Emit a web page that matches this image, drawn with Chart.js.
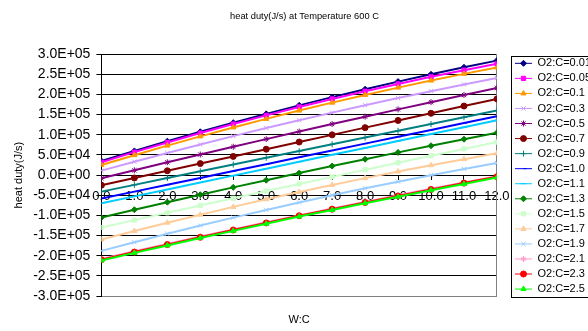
<!DOCTYPE html>
<html>
<head>
<meta charset="utf-8">
<script src="https://cdn.jsdelivr.net/npm/chart.js@4.4.1/dist/chart.umd.min.js"></script>
<style>
  html, body { margin: 0; padding: 0; background: #fff; }
  #wrap { width: 588px; height: 331px; overflow: hidden; position: relative; }
  canvas { display: block; }
</style>
</head>
<body>
<div id="wrap"><canvas id="chart" width="610" height="331"></canvas></div>
<script>
// W:C ratio on the x axis
const wc = [0, 1, 2, 3, 4, 5, 6, 7, 8, 9, 10, 11, 12];

// O2:C ratio of each series
const ratios = ['0.01', '0.05', '0.1', '0.3', '0.5', '0.7', '0.9', '1.0', '1.1', '1.3', '1.5', '1.7', '1.9', '2.1', '2.3', '2.5'];

// heat duty (J/s)
const duty001 = [35000, 59900, 84000, 107400, 130000, 151900, 173000, 193400, 213000, 231900, 250000, 267400, 284000];
const duty005 = [32000, 56900, 81000, 104200, 126700, 148200, 169000, 188900, 208000, 226200, 243700, 260200, 276000];
const duty01 = [25000, 49400, 73100, 96000, 118100, 139400, 160000, 179700, 198800, 217000, 234400, 251100, 267000];
const duty03 = [11000, 33200, 54900, 76000, 96600, 116600, 136000, 154900, 173200, 191000, 208200, 224900, 241000];
const duty05 = [-8000, 11900, 31600, 51000, 70200, 89200, 108000, 126600, 144900, 163000, 180900, 198600, 216000];
const duty07 = [-25000, -7200, 10700, 28500, 46300, 64200, 82000, 99800, 117700, 135500, 153300, 171200, 189000];
const duty09 = [-41000, -24300, -7500, 9300, 26000, 42800, 59500, 76300, 93000, 109800, 126500, 143300, 160000];
const duty10 = [-58000, -41000, -24000, -7000, 10000, 27000, 44000, 61000, 78000, 95000, 112000, 129000, 146000];
const duty11 = [-70000, -52800, -35700, -18500, -1300, 15800, 33000, 50200, 67300, 84500, 101700, 118800, 136000];
const duty13 = [-105000, -86000, -67200, -48800, -30500, -12700, 5000, 22400, 39400, 56300, 72800, 89000, 105000];
const duty15 = [-130000, -111700, -93600, -75500, -57600, -39700, -22000, -4400, 13100, 30500, 47800, 64900, 82000];
const duty17 = [-160000, -138800, -118200, -98300, -78900, -60100, -42000, -24500, -7600, 8700, 24400, 39500, 54000];
const duty19 = [-188000, -166500, -145600, -125300, -105600, -86400, -68000, -50200, -32900, -16300, -300, 15200, 30000];
const duty21 = [-208000, -189200, -170800, -152600, -134800, -117200, -100000, -83100, -66500, -50200, -34100, -18400, -3000];
const duty23 = [-210000, -191000, -172500, -154300, -136400, -118800, -101000, -84600, -68000, -51800, -35800, -19900, -4000];
const duty25 = [-212000, -193000, -174500, -156300, -138400, -120800, -103000, -86600, -70000, -53800, -37800, -21900, -6000];

const duties = [duty001, duty005, duty01, duty03, duty05, duty07, duty09, duty10, duty11, duty13, duty15, duty17, duty19, duty21, duty23, duty25];

const colors = ['#000080', '#FF00FF', '#FF9900', '#CC99FF', '#800080', '#800000', '#008080', '#0000FF',
    '#00CCFF', '#008000', '#CCFFCC', '#FFCC99', '#99CCFF', '#FF99CC', '#FF0000', '#00FF00'];
const markers = ['rectRot', 'rect', 'triangle', 'crossRot', 'star', 'circle', 'cross', 'dash',
    'line', 'rectRot', 'rect', 'triangle', 'crossRot', 'star', 'circle', 'triangle'];

// excel style 3.0E+05
const sci = (v) => {
    if (Math.abs(v) < 1e-9) return '0.0E+00';
    const e = Math.floor(Math.log10(Math.abs(v)) + 1e-9);
    const m = v / Math.pow(10, e);
    return m.toFixed(1) + 'E' + (e < 0 ? '-' : '+') + String(Math.abs(e)).padStart(2, '0');
};

const datasets = ratios.map((r, i) => ({
    label: 'O2:C=' + r,
    data: wc.map((x, j) => ({ x: x, y: duties[i][j] })),
    borderColor: colors[i],
    backgroundColor: colors[i],
    pointBackgroundColor: colors[i],
    pointBorderColor: colors[i],
    pointStyle: markers[i],
    pointRadius: 3,
    pointBorderWidth: 1,
    borderWidth: 2,
    order: -i,
}));

// markers on legend lines + frame round the legend
const legendExtras = {
    id: 'legendExtras',
    afterDraw(chart) {
        const legend = chart.legend;
        if (!legend || !legend.legendHitBoxes || !legend.legendHitBoxes.length) return;
        const ctx = chart.ctx;
        const boxes = legend.legendHitBoxes;
        const first = boxes[0];
        const last = boxes[boxes.length - 1];
        ctx.save();
        ctx.strokeStyle = '#000';
        ctx.lineWidth = 1;
        const top = first.top + first.height / 2 - 7.5;
        const bottom = last.top + last.height / 2 + 8;
        ctx.strokeRect(Math.round(legend.left) + 0.5, Math.round(top) + 0.5, chart.width, Math.round(bottom - top));
        legend.legendItems.forEach((item, i) => {
            const ds = chart.data.datasets[item.datasetIndex];
            const hb = boxes[i];
            ctx.fillStyle = ds.pointBackgroundColor;
            ctx.strokeStyle = ds.borderColor;
            ctx.lineWidth = 1;
            Chart.helpers.drawPoint(ctx, { pointStyle: ds.pointStyle, radius: 3, borderWidth: 1, rotation: 0 },
                hb.left + 8.5, hb.top + hb.height / 2);
        });
        ctx.restore();
    },
};

const font = "'Liberation Sans', Arial, sans-serif";

new Chart(document.getElementById('chart'), {
    type: 'line',
    data: { datasets: datasets },
    plugins: [legendExtras],
    options: {
        responsive: false,
        animation: false,
        layout: { padding: { left: 8, right: 9, top: 0, bottom: 0 } },
        plugins: {
            title: {
                display: true,
                text: 'heat duty(J/s) at Temperature 600 C',
                color: '#000',
                font: { family: font, size: 9.3, weight: 'normal' },
                padding: { top: 11, bottom: 32 },
            },
            legend: {
                position: 'right',
                title: {
                    display: true,
                    text: ' ',
                    font: { family: font, size: 11 },
                    padding: 4.1,
                },
                labels: {
                    usePointStyle: true,
                    pointStyle: 'line',
                    pointStyleWidth: 17,
                    padding: 4.05,
                    color: '#000',
                    font: { family: font, size: 11 },
                    sort: (a, b) => a.datasetIndex - b.datasetIndex,
                },
            },
            tooltip: { enabled: false },
        },
        scales: {
            x: {
                type: 'linear',
                min: 0,
                max: 12,
                grid: { display: false, drawTicks: false },
                border: { display: true, color: '#808080', width: 1 },
                ticks: { display: false },
                title: {
                    display: true,
                    text: 'W:C',
                    color: '#000',
                    font: { family: font, size: 11 },
                    padding: { top: 17.4, bottom: 4.4 },
                },
            },
            x2: {
                type: 'linear',
                position: { y: 0 },
                min: 0,
                max: 12,
                z: 1,
                grid: { drawOnChartArea: false, drawTicks: true, tickLength: 4, color: '#000' },
                border: { display: true, color: '#000', width: 1 },
                ticks: {
                    stepSize: 1,
                    autoSkip: false,
                    maxRotation: 0,
                    padding: 10,
                    color: '#000',
                    font: { family: font, size: 13 },
                    callback: (v) => v.toFixed(1),
                },
            },
            y: {
                min: -300000,
                max: 300000,
                grid: { color: '#000', lineWidth: 1, tickLength: 5 },
                border: { display: true, color: '#000', width: 1 },
                ticks: {
                    stepSize: 50000,
                    padding: 6,
                    color: '#000',
                    font: { family: font, size: 14 },
                    callback: (v) => sci(v),
                },
                title: {
                    display: true,
                    text: 'heat duty(J/s)',
                    color: '#000',
                    font: { family: font, size: 11 },
                    padding: { top: 4, bottom: 2 },
                },
            },
            yR: {
                position: 'right',
                min: -300000,
                max: 300000,
                grid: { display: false, drawTicks: false },
                border: { display: true, color: '#808080', width: 1 },
                ticks: { display: false },
                afterFit: (scale) => { scale.width = 14; },
            },
        },
    },
});
</script>
</body>
</html>
